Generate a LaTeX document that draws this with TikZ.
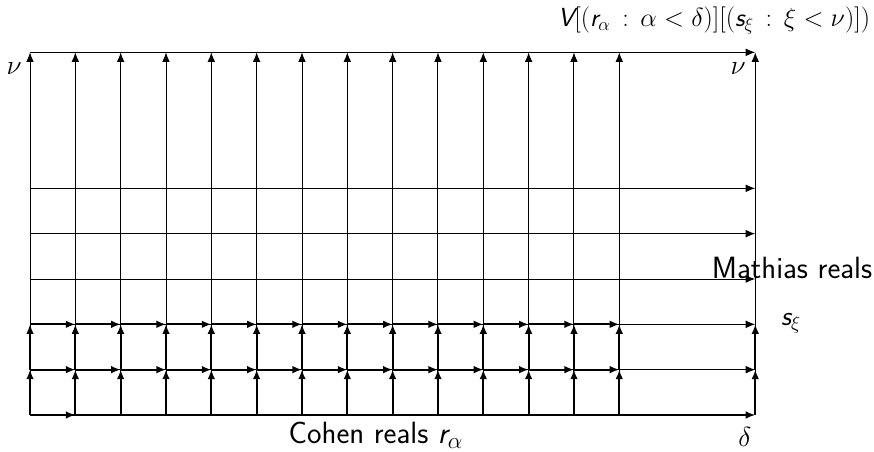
\documentclass[tikz,border=0pt]{standalone}
\usetikzlibrary{arrows.meta}
\newcommand{\svar}[1]{\textsf{\slshape #1}}
\begin{document}
\begin{tikzpicture}[x=1cm,y=1cm,
  tip/.style={-{Latex[length=6pt,width=4.8pt]}},
  thinline/.style={line width=0.6pt},
  thickline/.style={line width=1.1pt},
  lbl/.style={font=\LARGE\sffamily, inner sep=0pt},
  txtlbl/.style={font=\fontsize{19.3}{23}\selectfont\sffamily, inner sep=0pt}]
\useasboundingbox (-0.662,-0.816) rectangle (18.619,9.155);
\foreach \c in {0,...,13,16}{
  \foreach \r in {0,1,2,3,4,5,8}{
    \coordinate (p\c-\r) at (\c,\r);
  }
}
% long vertical lines
\foreach \c in {0,...,13,16}{
  \draw[thinline,tip] (p\c-0) -- (p\c-8);
}
% long horizontal lines
\foreach \r in {1,2,3,4,5,8}{
  \draw[thinline,tip] (p0-\r) -- (p16-\r);
}
\draw[thickline,tip] (p0-0) -- (p16-0);
\draw[thickline,tip] (p0-0) -- (p1-0);
% lower grid of arrows
\foreach \c in {0,...,13,16}{
  \draw[thickline,tip] (p\c-0) -- (p\c-1);
  \draw[thickline,tip] (p\c-1) -- (p\c-2);
}
\foreach \r in {1,2}{
  \foreach \c in {1,...,13}{
    \pgfmathtruncatemacro{\pc}{\c-1}
    \draw[thickline,tip] (p\pc-\r) -- (p\c-\r);
  }
}
% labels
\node[lbl,scale=0.95] (title) at (15.09,8.71) {$\svar{V}[(\svar{r}_\alpha \,:\, \alpha<\delta)][(\svar{s}_\xi \,:\, \xi<\nu)])$};
\node[lbl] (nul) at (-0.35,7.65) {$\nu$};
\node[lbl] (nur) at (15.62,7.65) {$\nu$};
\node[lbl] (delta) at (15.77,-0.49) {$\delta$};
\node[txtlbl] (cohen) at (7.63,-0.45) {Cohen reals $\svar{r}_\alpha$};
\node[txtlbl] (mathias) at (16.81,3.24) {Mathias reals};
\node[lbl] (sxi) at (16.79,2.03) {$\svar{s}_\xi$};
\end{tikzpicture}
\end{document}
